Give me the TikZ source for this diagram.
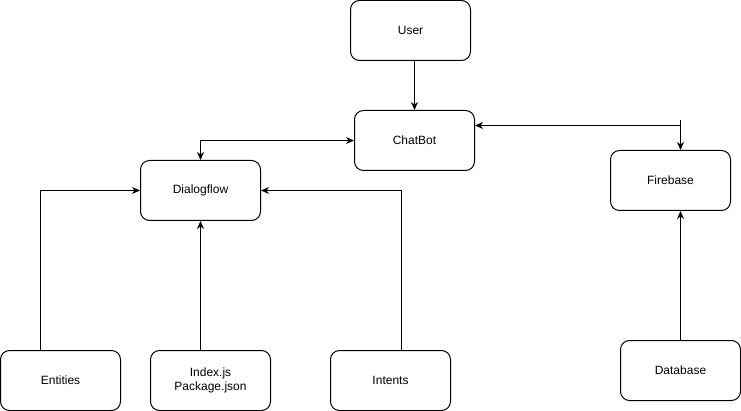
\documentclass[tikz,border=0pt]{standalone}
\usepackage{fontspec}
\setmainfont{Liberation Sans}
\usetikzlibrary{arrows.meta}
\begin{document}
\begin{tikzpicture}[x=1pt,y=-1pt,
  box/.style={draw, line width=1pt, rounded corners=9pt, minimum width=120pt, minimum height=60pt, inner sep=0pt, align=center, font=\fontsize{12}{14}\selectfont},
  conn/.style={line width=1pt, -{Stealth[length=8pt,width=7pt,inset=2.5pt]}},
  biconn/.style={line width=1pt, {Stealth[length=8pt,width=7pt,inset=2.5pt]}-{Stealth[length=8pt,width=7pt,inset=2.5pt]}}]
\useasboundingbox (0,0) rectangle (741,411);
\node[box] (user) at (410.5,30.5) {User};
\node[box] (chat) at (414.5,140.5) {ChatBot};
\node[box] (dialog) at (200.5,190.5) {Dialogflow};
\node[box] (fire) at (670.5,180.5) {Firebase};
\node[box] (ent) at (60.5,380.5) {Entities};
\node[box] (index) at (210.5,380.5) {Index.js\\Package.json};
\node[box] (intents) at (390.5,380.5) {Intents};
\node[box] (db) at (680.5,370.5) {Database};
\coordinate (stub) at (680.5,120.5);
\draw[conn] (user.south -| chat.north) -- (chat.north);
\draw[biconn] (chat.west) -| (dialog.north);
\draw[biconn] ([yshift=15pt]chat.east) -| ([xshift=10pt]fire.north);
\draw[line width=1pt] (stub) -- ++(0,5);
\draw[conn] (db.north) -- (db.north |- fire.south);
\draw[conn] ([xshift=-20pt]ent.north) |- (dialog.west);
\draw[conn] (dialog.south |- index.north) -- (dialog.south);
\draw[conn] ([xshift=11pt]intents.north) |- (dialog.east);
\end{tikzpicture}
\end{document}
